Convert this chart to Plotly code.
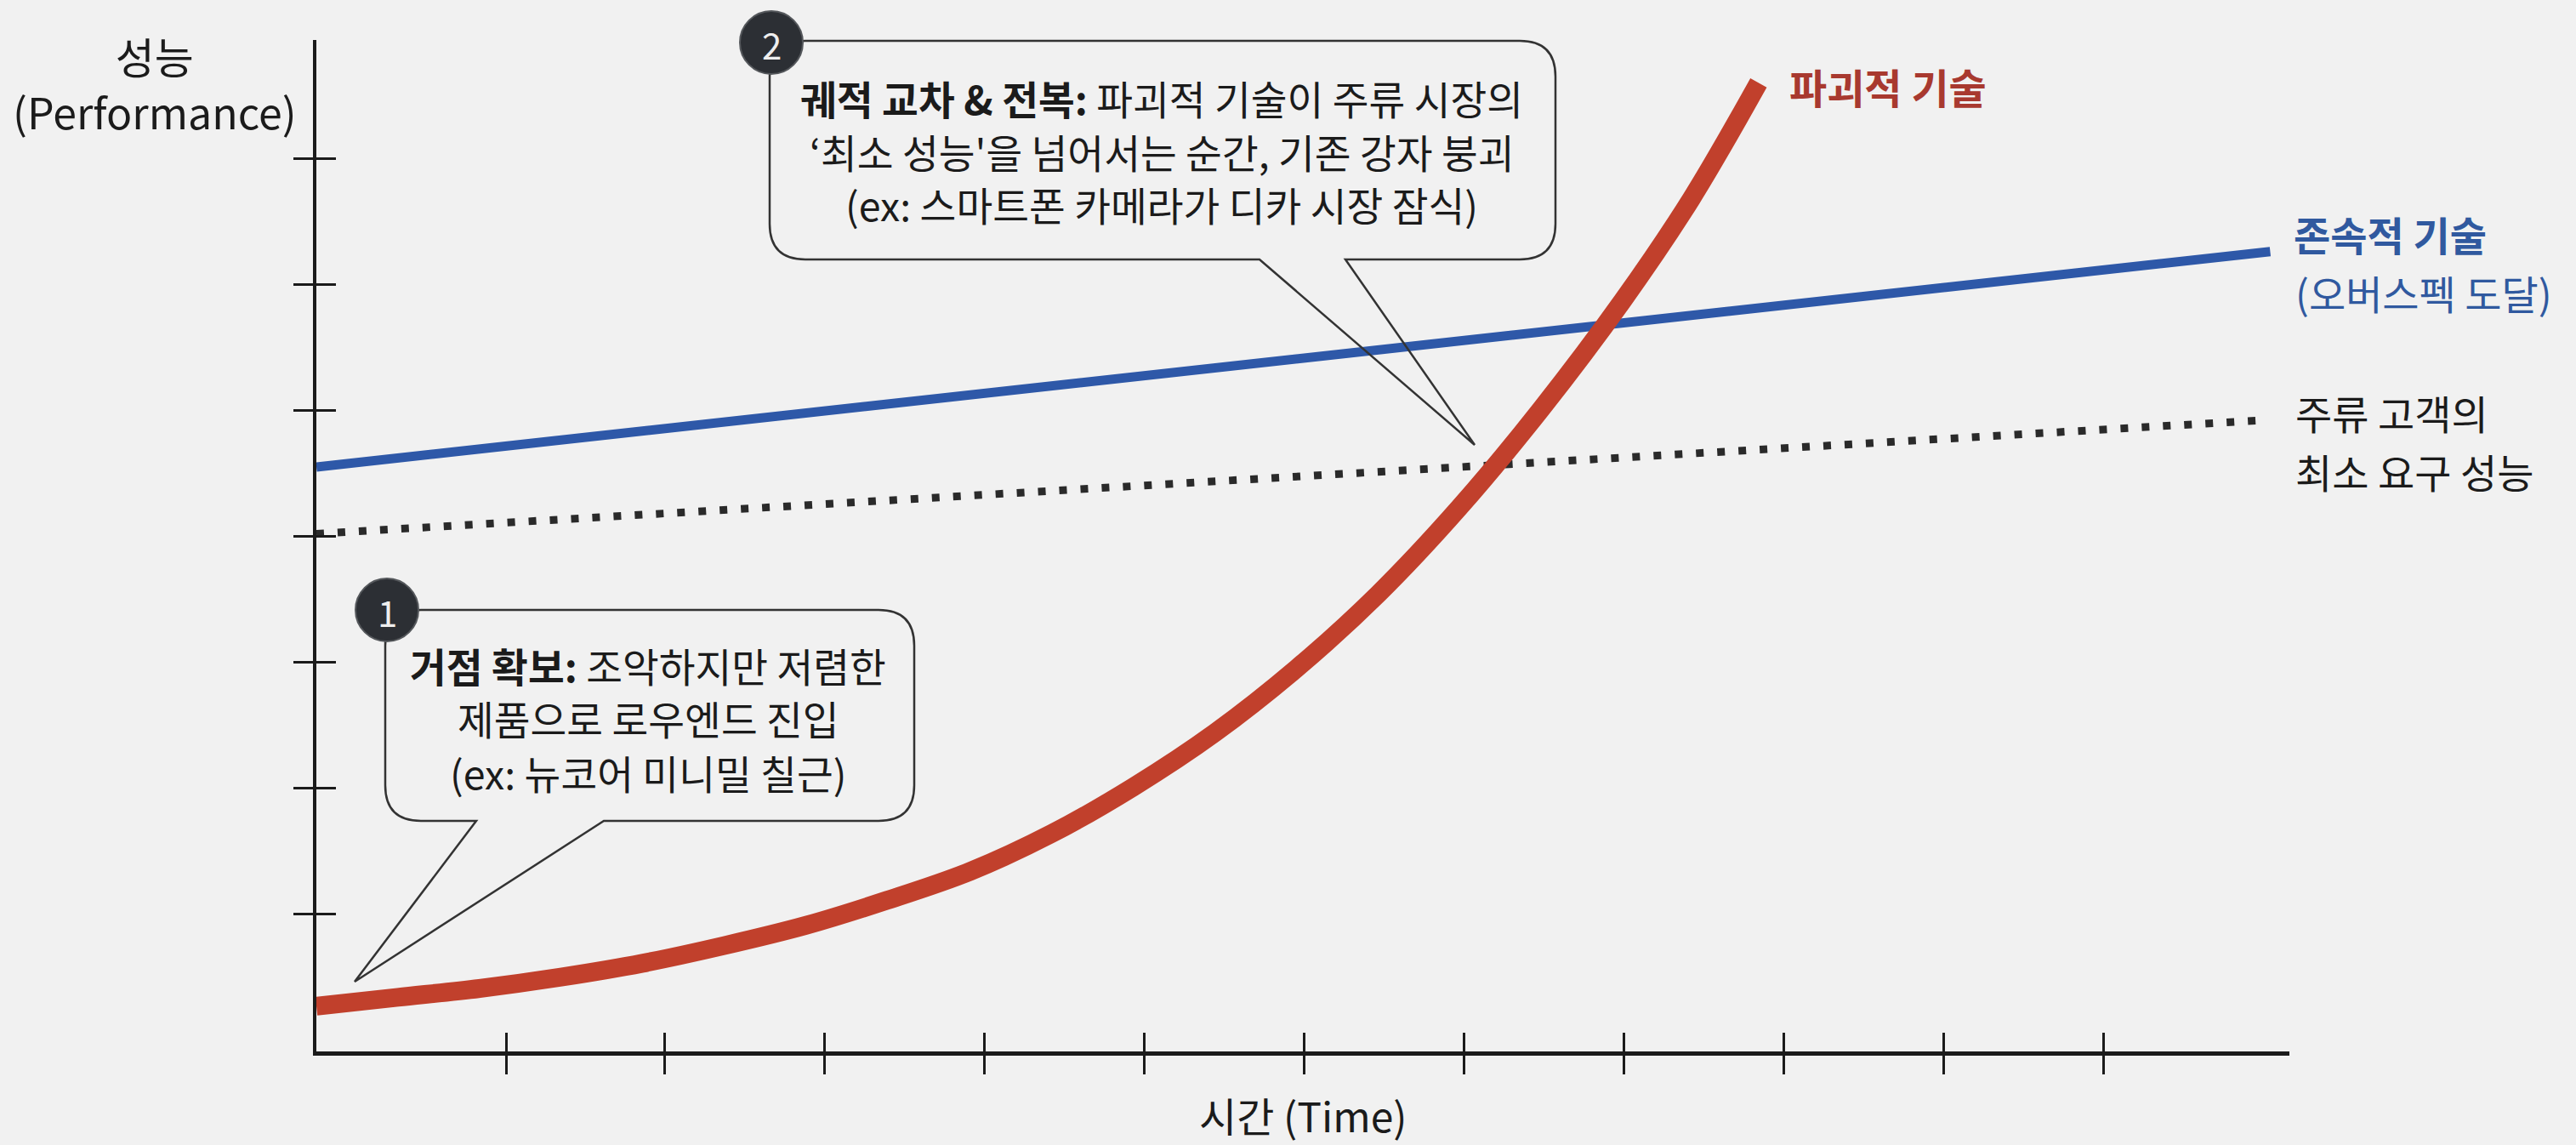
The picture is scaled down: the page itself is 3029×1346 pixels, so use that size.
import plotly.graph_objects as go

# ---------------- data ----------------
time_disruptive = [0, 0.51, 1.02, 1.53, 2.04, 2.55, 3.06, 3.57, 4.09, 4.60, 5.11, 5.62,
                   6.13, 6.64, 7.15, 7.66, 8.17, 8.60, 9.02]
perf_disruptive = [0.36, 0.43, 0.50, 0.59, 0.70, 0.84, 1.00, 1.20, 1.43, 1.73, 2.10, 2.53,
                   3.04, 3.63, 4.32, 5.10, 5.96, 6.77, 7.69]

time_sustaining = [0, 12.22]
perf_sustaining = [4.64, 6.35]

time_demand = [0, 12.16]
perf_demand = [4.11, 5.01]

x_tick_vals = [1.19, 2.18, 3.18, 4.18, 5.18, 6.18, 7.18, 8.18, 9.18, 10.18, 11.18]
y_tick_vals = [1.09, 2.09, 3.09, 4.09, 5.09, 6.09, 7.09]

x_title = "시간 (Time)"
y_title_lines = ["성능", "(Performance)"]
label_disruptive = "파괴적 기술"
label_sustaining = ["존속적 기술", "(오버스펙 도달)"]
label_demand = ["주류 고객의", "최소 요구 성능"]
bubble1_lines = ["<b>거점 확보:</b> 조악하지만 저렴한", "제품으로 로우엔드 진입", "(ex: 뉴코어 미니밀 칠근)"]
bubble2_lines = ["<b>궤적 교차 &amp; 전복:</b> 파괴적 기술이 주류 시장의",
                 "‘최소 성능'을 넘어서는 순간, 기존 강자 붕괴",
                 "(ex: 스마트폰 카메라가 디카 시장 잠식)"]

# ---------------- layout geometry (page pixels) ----------------
W, H = 3029, 1346
PL, PR, PT, PB = 372, 2692, 47, 1236
X_MAX = 12.34
Y_MAX = 8.03
FONT = "Noto Sans CJK KR"

RED = "#c1402c"
BLUE = "#2e58a8"
DOT = "#2a2a2a"
BG = "#f1f1f1"
INK = "#1b1b1b"


def PX(px):
    return (px - PL) / (PR - PL)


def PY(py):
    return (PB - py) / (PB - PT)


def bubble_path(L, T, R, B, r, a, b, tip):
    tx, ty = tip
    pts = [
        ("M", [(L + r, T)]),
        ("L", [(R - r, T)]),
        ("Q", [(R, T), (R, T + r)]),
        ("L", [(R, B - r)]),
        ("Q", [(R, B), (R - r, B)]),
        ("L", [(b, B)]),
        ("L", [(tx, ty)]),
        ("L", [(a, B)]),
        ("L", [(L + r, B)]),
        ("Q", [(L, B), (L, B - r)]),
        ("L", [(L, T + r)]),
        ("Q", [(L, T), (L + r, T)]),
    ]
    s = ""
    for cmd, ps in pts:
        s += cmd + " " + " ".join(f"{PX(x):.5f},{PY(y):.5f}" for x, y in ps) + " "
    return s + "Z"


fig = go.Figure()

fig.add_trace(go.Scatter(x=time_demand, y=perf_demand, mode="lines",
                         line=dict(color=DOT, width=9, dash="9px,16px"),
                         showlegend=False, hoverinfo="skip"))
fig.add_trace(go.Scatter(x=time_sustaining, y=perf_sustaining, mode="lines",
                         line=dict(color=BLUE, width=11),
                         showlegend=False, hoverinfo="skip"))
fig.add_trace(go.Scatter(x=time_disruptive, y=perf_disruptive, mode="lines",
                         line=dict(color=RED, width=22, shape="spline", smoothing=1),
                         showlegend=False, hoverinfo="skip"))
# dummy trace for the overlay axes (inside half of crossing ticks)
fig.add_trace(go.Scatter(x=[None], y=[None], xaxis="x2", yaxis="y2",
                         showlegend=False, hoverinfo="skip"))

axis_common = dict(showgrid=False, zeroline=False, showticklabels=False)

fig.update_layout(
    width=W, height=H,
    margin=dict(l=PL, r=W - PR, t=PT, b=H - PB, pad=0),
    paper_bgcolor=BG, plot_bgcolor=BG,
    font=dict(family=FONT, color=INK),
    xaxis=dict(range=[0, X_MAX], tickmode="array", tickvals=x_tick_vals,
               ticks="outside", ticklen=22, tickwidth=2.5, tickcolor=INK,
               showline=True, linecolor=INK, linewidth=5, **axis_common),
    yaxis=dict(range=[0, Y_MAX], tickmode="array", tickvals=y_tick_vals,
               ticks="outside", ticklen=23, tickwidth=2.5, tickcolor=INK,
               showline=True, linecolor=INK, linewidth=3.5, **axis_common),
    xaxis2=dict(range=[0, X_MAX], overlaying="x", tickmode="array", tickvals=x_tick_vals,
                ticks="inside", ticklen=22, tickwidth=2.5, tickcolor=INK,
                showline=False, side="bottom", **axis_common),
    yaxis2=dict(range=[0, Y_MAX], overlaying="y", tickmode="array", tickvals=y_tick_vals,
                ticks="inside", ticklen=23, tickwidth=2.5, tickcolor=INK,
                showline=False, side="left", **axis_common),
)

shapes = []
# speech bubbles
shapes.append(dict(type="path", xref="paper", yref="paper",
                   path=bubble_path(453, 717, 1075, 965, 42, 560, 710, (417, 1154)),
                   line=dict(color="#333333", width=2.5), fillcolor="rgba(0,0,0,0)", layer="above"))
shapes.append(dict(type="path", xref="paper", yref="paper",
                   path=bubble_path(905, 48, 1829, 305, 42, 1481, 1582, (1734, 523)),
                   line=dict(color="#333333", width=2.5), fillcolor="rgba(0,0,0,0)", layer="above"))
# numbered badges
for cx, cy in [(455, 717), (907, 50)]:
    rr = 37
    shapes.append(dict(type="circle", xref="paper", yref="paper",
                       x0=PX(cx - rr), x1=PX(cx + rr), y0=PY(cy + rr), y1=PY(cy - rr),
                       fillcolor="#2c2f34", line=dict(color="#55585c", width=2), layer="above"))
fig.update_layout(shapes=shapes)

ann = []


def text(px, py, s, size, color=INK, xanchor="center"):
    ann.append(dict(xref="paper", yref="paper", x=PX(px), y=PY(py), text=s,
                    showarrow=False, xanchor=xanchor, yanchor="middle",
                    align="left" if xanchor == "left" else "center",
                    font=dict(family=FONT, size=size, color=color)))


text(455, 718, "1", 42, "#eeeeee")
text(907, 51, "2", 42, "#eeeeee")

for i, s in enumerate(bubble1_lines):
    text(762, 781 + 63 * i, s, 46.5)
for i, s in enumerate(bubble2_lines):
    text(1366, 114 + 63 * i, s, 46.5)

text(182, 97, "<br>".join(y_title_lines), 50)
text(1532, 1310, x_title, 48)

text(2102, 101, "<b>" + label_disruptive + "</b>", 48, "#a8392f", "left")
text(2695, 274, "<b>" + label_sustaining[0] + "</b>", 47, "#30599f", "left")
text(2697, 343, label_sustaining[1], 47, "#30599f", "left")
text(2697, 485, label_demand[0], 47, INK, "left")
text(2697, 553, label_demand[1], 47, INK, "left")

fig.update_layout(annotations=ann)

fig.write_html("out.html")
